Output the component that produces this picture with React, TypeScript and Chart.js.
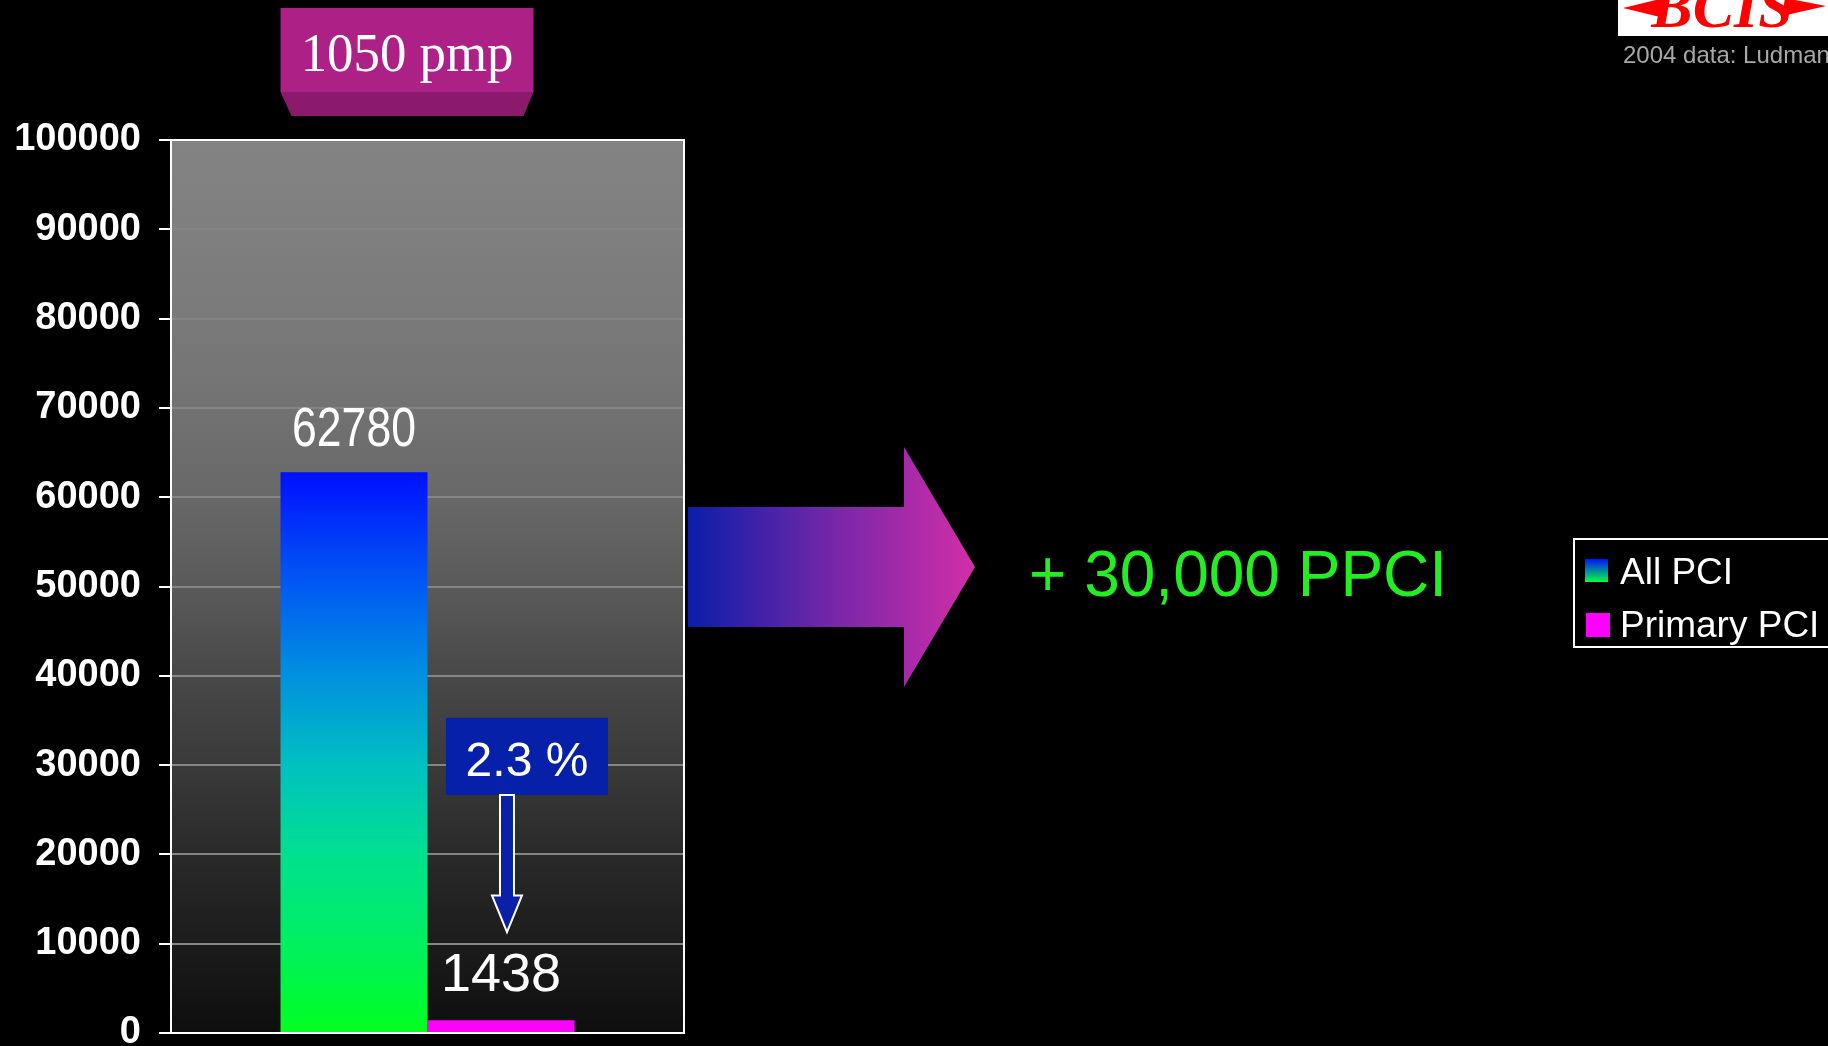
import React, { useEffect, useRef } from "react";
import { Chart, registerables } from "chart.js";

Chart.register(...registerables);

const categories = ["2004"];
const allPci = [62780];
const primaryPci = [1438];
const seriesLabels = ["All PCI", "Primary PCI"];
const yMin = 0;
const yMax = 100000;
const yStep = 10000;
const pmpLabel = "1050 pmp";
const pctLabel = "2.3 %";
const ppciLabel = "+ 30,000 PPCI";
const sourceLabel = "2004 data: Ludman";
const logoLabel = "BCIS";

const W = 1828;
const H = 1046;
const CANVAS_H = 1080;

// plot background shades, top (t=0) to bottom (t=1)
const bgStops: [number, string][] = [
  [0, "#838383"],
  [0.1, "#7f7f7f"],
  [0.2, "#7a7a7a"],
  [0.3, "#727272"],
  [0.4, "#686868"],
  [0.52, "#575757"],
  [0.6, "#484848"],
  [0.7, "#3a3a3a"],
  [0.8, "#2a2a2a"],
  [0.9, "#1c1c1c"],
  [1, "#0e0e0e"],
];
// All PCI bar shades, bottom (0) to top (1)
const barStops: [number, string][] = [
  [0, "#00ff20"],
  [0.16, "#00f060"],
  [0.32, "#00e090"],
  [0.48, "#00c0c0"],
  [0.64, "#0090e0"],
  [0.77, "#0064f0"],
  [1, "#0010ff"],
];

function App() {
  const ref = useRef<HTMLCanvasElement | null>(null);

  useEffect(() => {
    const canvas = ref.current;
    if (!canvas) return;

    const decor = {
      id: "decor",
      beforeDraw(chart: any) {
        const { ctx, chartArea } = chart;
        if (!chartArea) return;
        ctx.save();
        ctx.fillStyle = "#000";
        ctx.fillRect(0, 0, chart.width, chart.height);
        const g = ctx.createLinearGradient(0, chartArea.top, 0, chartArea.bottom);
        bgStops.forEach(([t, c]) => g.addColorStop(t, c));
        ctx.fillStyle = g;
        ctx.fillRect(chartArea.left, chartArea.top, chartArea.right - chartArea.left, chartArea.bottom - chartArea.top);
        ctx.restore();
      },
      afterDatasetsDraw(chart: any) {
        const { ctx, chartArea, scales } = chart;
        const y = scales.y;
        const b0 = chart.getDatasetMeta(0).data[0] as any;
        const b1 = chart.getDatasetMeta(1).data[0] as any;
        ctx.save();

        // plot border
        ctx.strokeStyle = "#ffffff";
        ctx.lineWidth = 2;
        ctx.strokeRect(chartArea.left, chartArea.top, chartArea.right - chartArea.left, chartArea.bottom - chartArea.top);

        // value labels
        ctx.fillStyle = "#ffffff";
        ctx.textAlign = "center";
        ctx.textBaseline = "alphabetic";
        ctx.save();
        ctx.translate(b0.x, b0.y - 26);
        ctx.scale(0.81, 1);
        ctx.font = "55px 'Liberation Sans', Arial, sans-serif";
        ctx.fillText(String(allPci[0]), 0, 0);
        ctx.restore();
        ctx.font = "54px 'Liberation Sans', Arial, sans-serif";
        ctx.fillText(String(primaryPci[0]), b1.x, b1.y - 29);

        // 2.3 % box
        const boxTop = y.getPixelForValue(35300);
        const boxBot = y.getPixelForValue(26650);
        const boxL = b1.x - 55;
        const boxR = b1.x + 107;
        ctx.fillStyle = "#0620a9";
        ctx.fillRect(boxL, boxTop, boxR - boxL, boxBot - boxTop);
        ctx.fillStyle = "#ffffff";
        ctx.font = "48px 'Liberation Sans', Arial, sans-serif";
        ctx.fillText(pctLabel, (boxL + boxR) / 2, boxBot - 19);

        // down arrow
        const ax = b1.x + 6;
        const headBase = y.getPixelForValue(15400);
        const tip = y.getPixelForValue(11300);
        ctx.beginPath();
        ctx.moveTo(ax - 7, boxBot);
        ctx.lineTo(ax + 7, boxBot);
        ctx.lineTo(ax + 7, headBase);
        ctx.lineTo(ax + 15, headBase);
        ctx.lineTo(ax, tip);
        ctx.lineTo(ax - 15, headBase);
        ctx.lineTo(ax - 7, headBase);
        ctx.closePath();
        ctx.fillStyle = "#0a20a8";
        ctx.fill();
        ctx.strokeStyle = "#ffffff";
        ctx.lineWidth = 2;
        ctx.stroke();

        // 1050 pmp box
        const pL = b0.x - b0.width / 2;
        const pR = pL + 253;
        ctx.fillStyle = "#8c1a6c";
        ctx.beginPath();
        ctx.moveTo(pL, 92);
        ctx.lineTo(pR, 92);
        ctx.lineTo(pR - 10, 116);
        ctx.lineTo(pL + 11, 116);
        ctx.closePath();
        ctx.fill();
        ctx.fillStyle = "#ad2187";
        ctx.fillRect(pL, 8, pR - pL, 84);
        ctx.fillStyle = "#ffffff";
        ctx.save();
        ctx.translate((pL + pR) / 2, 71);
        ctx.scale(0.96, 1);
        ctx.font = "55px 'Liberation Serif', 'Times New Roman', serif";
        ctx.fillText(pmpLabel, 0, 0);
        ctx.restore();

        // big arrow
        const aL = chartArea.right + 4;
        const cy = y.getPixelForValue(52180);
        const ag = ctx.createLinearGradient(aL, 0, aL + 287, 0);
        ag.addColorStop(0, "#0a1ea8");
        ag.addColorStop(0.45, "#6a26a8");
        ag.addColorStop(1, "#d42ea8");
        ctx.fillStyle = ag;
        ctx.beginPath();
        ctx.moveTo(aL, cy - 60);
        ctx.lineTo(aL + 216, cy - 60);
        ctx.lineTo(aL + 216, cy - 120);
        ctx.lineTo(aL + 287, cy);
        ctx.lineTo(aL + 216, cy + 120);
        ctx.lineTo(aL + 216, cy + 60);
        ctx.lineTo(aL, cy + 60);
        ctx.closePath();
        ctx.fill();

        // + 30,000 PPCI
        ctx.fillStyle = "#22ee22";
        ctx.textAlign = "left";
        ctx.font = "64px 'Liberation Sans', Arial, sans-serif";
        ctx.fillText(ppciLabel, 1029, cy + 29);

        // legend
        const lx = 1574;
        ctx.strokeStyle = "#ffffff";
        ctx.lineWidth = 2;
        ctx.strokeRect(lx, 539, 300, 108);
        const sg = ctx.createLinearGradient(0, 559, 0, 582);
        sg.addColorStop(0, "#0010ff");
        sg.addColorStop(1, "#00ff40");
        ctx.fillStyle = sg;
        ctx.fillRect(lx + 11, 559, 23, 23);
        ctx.fillStyle = "#ff00ff";
        ctx.fillRect(lx + 12, 613, 24, 24);
        ctx.fillStyle = "#ffffff";
        ctx.font = "37px 'Liberation Sans', Arial, sans-serif";
        ctx.fillText(chart.data.datasets[0].label, lx + 46, 584);
        ctx.fillText(chart.data.datasets[1].label, lx + 46, 637);

        // source text
        ctx.fillStyle = "#a8a8a8";
        ctx.font = "24px 'Liberation Sans', Arial, sans-serif";
        ctx.fillText(sourceLabel, 1623, 63);

        // logo
        ctx.fillStyle = "#ffffff";
        ctx.fillRect(1618, 0, 210, 36);
        ctx.fillStyle = "#ff0000";
        ctx.beginPath();
        ctx.moveTo(1623, 8);
        ctx.lineTo(1664, -2);
        ctx.lineTo(1660, 17);
        ctx.closePath();
        ctx.fill();
        ctx.beginPath();
        ctx.moveTo(1826, 6);
        ctx.lineTo(1785, -2);
        ctx.lineTo(1782, 16);
        ctx.closePath();
        ctx.fill();
        ctx.textAlign = "center";
        ctx.font = "italic bold 62px 'Liberation Serif', 'Times New Roman', serif";
        ctx.fillText(logoLabel, 1722, 27);

        ctx.restore();
      },
    };

    const chart = new Chart(canvas, {
      type: "bar",
      data: {
        labels: categories,
        datasets: [
          {
            label: seriesLabels[0],
            data: allPci,
            backgroundColor: (c: any) => {
              const ch = c.chart;
              if (!ch.chartArea) return "#00c0c0";
              const ys = ch.scales.y;
              const g = ch.ctx.createLinearGradient(0, ys.getPixelForValue(0), 0, ys.getPixelForValue(allPci[0]));
              barStops.forEach(([t, col]) => g.addColorStop(t, col));
              return g;
            },
            borderWidth: 0,
            barPercentage: 1,
            categoryPercentage: 0.573,
          },
          {
            label: seriesLabels[1],
            data: primaryPci,
            backgroundColor: "#ff00ff",
            borderWidth: 0,
            barPercentage: 1,
            categoryPercentage: 0.573,
          },
        ],
      },
      options: {
        responsive: false,
        animation: false,
        layout: { padding: { left: 0, top: 140, right: W - 684, bottom: CANVAS_H - 1033 } },
        plugins: {
          legend: { display: false },
          tooltip: { enabled: false },
        },
        scales: {
          x: { display: false },
          y: {
            min: yMin,
            max: yMax,
            afterFit: (s: any) => {
              s.width = 171;
            },
            ticks: {
              stepSize: yStep,
              color: "#ffffff",
              padding: 18,
              font: { family: "'Liberation Sans', Arial, sans-serif", size: 38, weight: "bold" },
              callback: (v: any) => String(v),
            },
            grid: {
              color: "#858585",
              lineWidth: 2,
              tickLength: 12,
              tickColor: "#ffffff",
              tickWidth: 2,
            },
            border: { display: true, color: "#ffffff", width: 2 },
          },
        },
      },
      plugins: [decor],
    } as any);

    return () => chart.destroy();
  }, []);

  return (
    <div style={{ position: "fixed", left: 0, top: 0, width: W, height: H, overflow: "hidden", background: "#000" }}>
      <canvas ref={ref} width={W} height={CANVAS_H} style={{ display: "block", width: W, height: CANVAS_H }} />
    </div>
  );
}

export default App;
